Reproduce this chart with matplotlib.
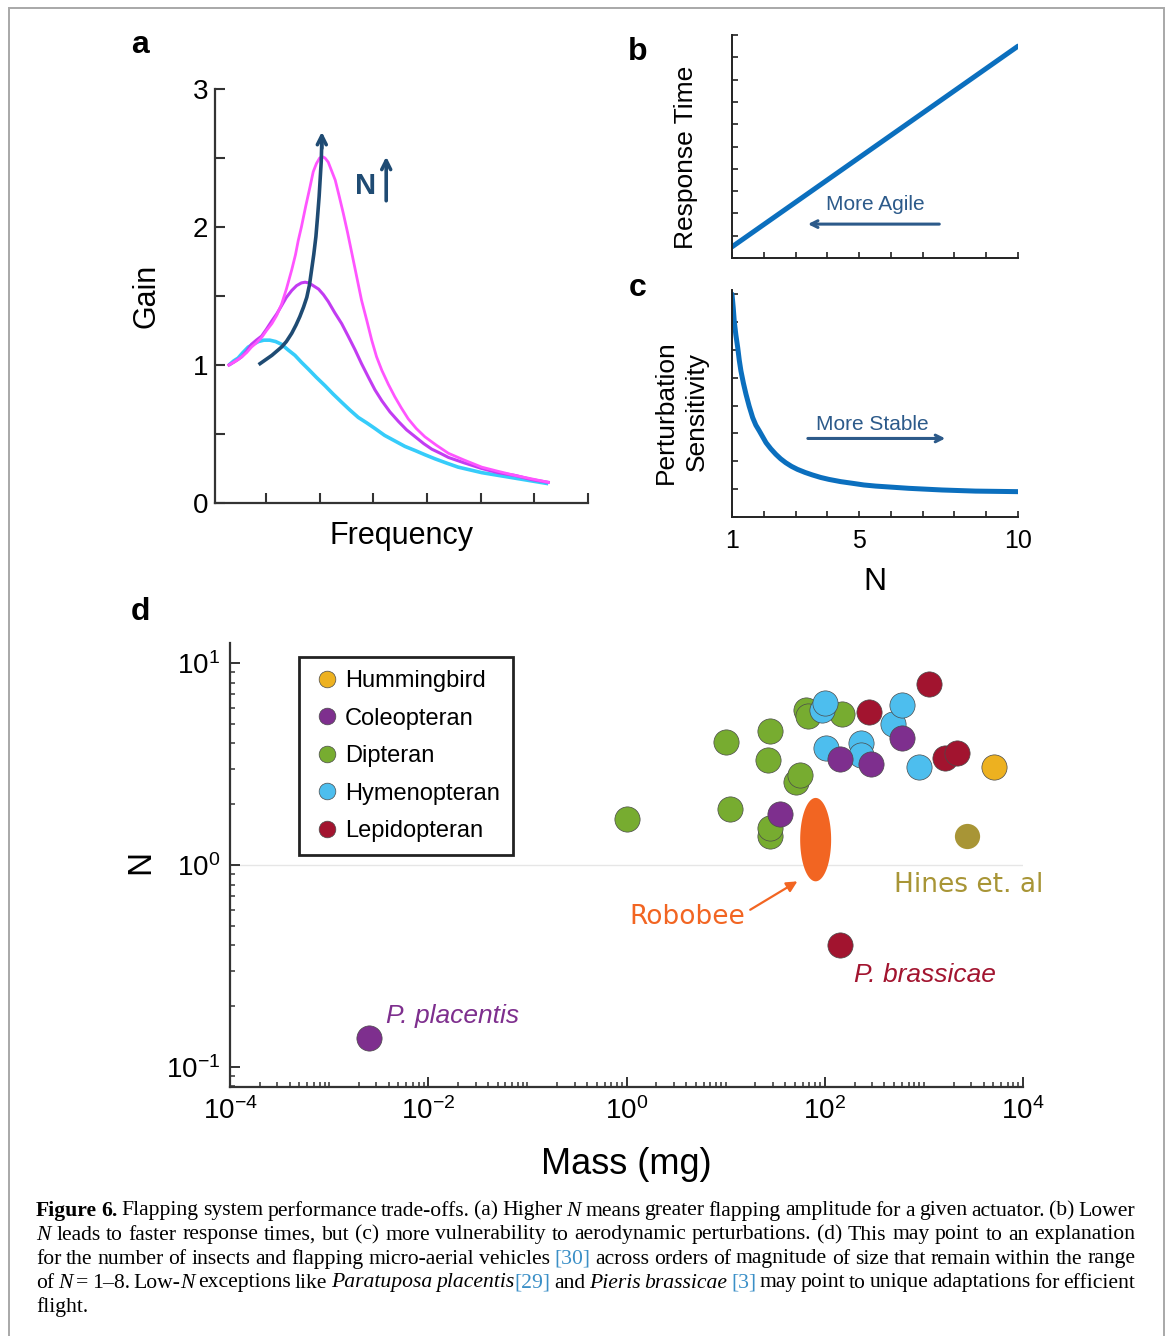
import numpy as np
import matplotlib
matplotlib.use('Agg')
import matplotlib.pyplot as plt
from matplotlib.lines import Line2D
from matplotlib.patches import Rectangle
from matplotlib.ticker import LogLocator, LogFormatterSciNotation, NullFormatter

plt.rcParams['font.family'] = ['Liberation Sans', 'DejaVu Sans']
plt.rcParams['mathtext.fontset'] = 'custom'
plt.rcParams['mathtext.rm'] = 'Liberation Sans'
plt.rcParams['mathtext.it'] = 'Liberation Sans:italic'
plt.rcParams['mathtext.default'] = 'regular'
plt.rcParams['axes.unicode_minus'] = False

# ---- panel a: gain vs frequency ----
freq_pink = [0.31, 0.40, 0.48, 0.55, 0.64, 0.73, 0.82, 0.92, 1.01, 1.11, 1.20, 1.29, 1.38,
             1.48, 1.55, 1.60, 1.66, 1.74, 1.82, 1.88, 1.94, 2.00, 2.05, 2.10, 2.16, 2.22,
             2.29, 2.36, 2.44, 2.52, 2.60, 2.69, 2.78, 2.88, 2.97, 3.06, 3.16, 3.28, 3.40,
             3.52, 3.65, 3.80, 3.96, 4.17, 4.40, 4.70, 5.02, 5.32, 5.64, 5.95, 6.26]
gain_pink = [1.00, 1.02, 1.04, 1.06, 1.09, 1.13, 1.16, 1.20, 1.25, 1.30, 1.36, 1.44, 1.55,
             1.69, 1.80, 1.90, 2.00, 2.15, 2.29, 2.40, 2.46, 2.50, 2.51, 2.50, 2.47, 2.41,
             2.34, 2.23, 2.10, 1.96, 1.81, 1.64, 1.47, 1.32, 1.18, 1.06, 0.96, 0.86, 0.77,
             0.69, 0.61, 0.54, 0.48, 0.42, 0.36, 0.31, 0.26, 0.23, 0.20, 0.175, 0.15]
freq_violet = [0.31, 0.40, 0.48, 0.55, 0.64, 0.73, 0.82, 0.92, 1.01, 1.11, 1.20, 1.29, 1.38,
               1.48, 1.57, 1.66, 1.73, 1.79, 1.86, 1.92, 1.98, 2.07, 2.16, 2.28, 2.41, 2.53,
               2.66, 2.78, 2.91, 3.03, 3.16, 3.31, 3.47, 3.62, 3.78, 3.94, 4.09, 4.25, 4.40,
               4.70, 5.02, 5.32, 5.64, 5.95, 6.26]
gain_violet = [1.00, 1.02, 1.04, 1.06, 1.10, 1.15, 1.18, 1.21, 1.26, 1.32, 1.37, 1.43, 1.49,
               1.54, 1.575, 1.595, 1.60, 1.595, 1.58, 1.565, 1.55, 1.51, 1.46, 1.38, 1.30, 1.21,
               1.11, 1.01, 0.91, 0.82, 0.74, 0.66, 0.59, 0.53, 0.48, 0.43, 0.39, 0.36, 0.33,
               0.29, 0.25, 0.22, 0.20, 0.17, 0.15]
freq_cyan = [0.31, 0.40, 0.48, 0.57, 0.67, 0.76, 0.86, 0.96, 1.07, 1.18, 1.29, 1.41, 1.54,
             1.66, 1.79, 1.94, 2.10, 2.25, 2.41, 2.56, 2.72, 2.88, 3.03, 3.21, 3.40, 3.59,
             3.78, 3.96, 4.15, 4.36, 4.58, 4.80, 5.02, 5.33, 5.64, 5.95, 6.26]
gain_cyan = [1.00, 1.03, 1.05, 1.09, 1.13, 1.15, 1.17, 1.18, 1.18, 1.17, 1.15, 1.11, 1.07,
             1.02, 0.97, 0.91, 0.85, 0.79, 0.73, 0.675, 0.62, 0.58, 0.54, 0.49, 0.45, 0.41,
             0.38, 0.35, 0.32, 0.29, 0.26, 0.24, 0.22, 0.20, 0.18, 0.16, 0.14]
# trend arrow through the peaks
freq_trend = [0.89, 1.00, 1.11, 1.20, 1.29, 1.38, 1.48, 1.56, 1.63, 1.70, 1.76, 1.81, 1.85,
              1.89, 1.93, 1.96, 1.99, 2.01, 2.03, 2.04]
gain_trend = [1.01, 1.04, 1.07, 1.10, 1.13, 1.17, 1.23, 1.29, 1.35, 1.42, 1.49, 1.58, 1.69,
              1.80, 1.93, 2.07, 2.22, 2.35, 2.48, 2.62]

# ---- panel b / c ----
n_b = [1, 10]
resp_time = [0.5, 9.5]
n_c = [1, 1.04, 1.07, 1.12, 1.18, 1.23, 1.28, 1.36, 1.44, 1.54, 1.65, 1.75, 1.86, 2.07, 2.22,
       2.38, 2.53, 2.69, 2.87, 3.06, 3.30, 3.53, 3.79, 4.05, 4.42, 4.79, 5.15, 5.52, 6.04,
       6.56, 7.08, 7.61, 8.13, 8.66, 9.33, 10.0]
sens = [8.0, 7.5, 7.04, 6.55, 6.08, 5.62, 5.25, 4.80, 4.41, 3.98, 3.57, 3.30, 3.09, 2.67, 2.45,
        2.25, 2.09, 1.95, 1.82, 1.71, 1.60, 1.51, 1.42, 1.35, 1.27, 1.21, 1.15, 1.11, 1.07,
        1.03, 1.00, 0.97, 0.95, 0.93, 0.92, 0.91]

# ---- panel d: mass (mg) vs N ----
dip_mass = [1.0, 10, 11.1, 28, 27, 28, 28, 51, 56, 65, 68, 151]
dip_N = [1.69, 4.07, 1.89, 4.6, 3.3, 1.39, 1.52, 2.57, 2.79, 5.85, 5.46, 5.58]
hym_mass = [93, 100, 102, 234, 230, 490, 600, 890]
hym_N = [5.85, 6.34, 3.8, 4.0, 3.5, 4.99, 6.2, 3.06]
col_mass = [0.0025, 35, 141, 295, 600]
col_N = [0.139, 1.78, 3.35, 3.16, 4.26]
lep_mass = [1120, 280, 1620, 2170, 143]
lep_N = [7.9, 5.7, 3.39, 3.59, 0.40]
hum_mass = [5150]
hum_N = [3.06]
hines_mass = [2750]
hines_N = [1.39]
robobee_mass = (56.5, 116)
robobee_N = (0.83, 2.15)

groups = ['Hummingbird', 'Coleopteran', 'Dipteran', 'Hymenopteran', 'Lepidopteran']
group_colors = ['#EDB120', '#7E2F8E', '#77AC30', '#4DBEEE', '#A2142F']

W, H = 1171, 1336
fig = plt.figure(figsize=(W / 100, H / 100), dpi=100)


def px_axes(l, t, r, b):
    return fig.add_axes([l / W, 1 - b / H, (r - l) / W, (b - t) / H])


navy = '#1F4B73'
annot = '#2C5A8A'
line_blue = '#0B6FBE'
spine_c = '#333333'

# ================= panel a =================
ax = px_axes(215, 89, 588, 503)
ax.plot(freq_cyan, gain_cyan, color='#36CCFA', lw=2.6, solid_capstyle='butt', zorder=2)
ax.plot(freq_violet, gain_violet, color='#C23CF2', lw=2.2, zorder=3)
ax.plot(freq_pink, gain_pink, color='#FF55FF', lw=2.0, zorder=3)
ax.plot(freq_trend, gain_trend, color=navy, lw=2.6, zorder=4)
ax.annotate('', xy=(freq_trend[-1], 2.71), xytext=(freq_trend[-1], 2.55),
            arrowprops=dict(arrowstyle='->', lw=2.6, color=navy, mutation_scale=16), zorder=5)
ax.text(2.86, 2.30, 'N', color=navy, fontsize=21, fontweight='bold', ha='center', va='center')
ax.annotate('', xy=(3.24, 2.53), xytext=(3.24, 2.17),
            arrowprops=dict(arrowstyle='->', lw=2.6, color=navy, mutation_scale=16))
ax.set_xlim(0.05, 7)
ax.set_ylim(0, 3)
ax.set_xticks(range(1, 8))
ax.set_xticklabels([])
ax.set_yticks(np.arange(0, 3.01, 0.5))
ax.set_yticklabels(['0', '', '1', '', '2', '', '3'])
ax.tick_params(direction='in', length=7, width=1.5, color=spine_c, labelsize=20, pad=5)
for s in ['top', 'right']:
    ax.spines[s].set_visible(False)
for s in ['left', 'bottom']:
    ax.spines[s].set_linewidth(1.6)
    ax.spines[s].set_color(spine_c)
ax.set_xlabel('Frequency', fontsize=22, labelpad=8)
ax.set_ylabel('Gain', fontsize=22, labelpad=22)

# ================= panel b =================
axb = px_axes(732, 35, 1018, 258)
axb.plot(n_b, resp_time, color=line_blue, lw=3.6, solid_capstyle='round')
axb.set_xlim(1, 10)
axb.set_ylim(0, 10)
axb.set_xticks(range(1, 11))
axb.set_yticks(range(0, 11))
axb.set_xticklabels([])
axb.set_yticklabels([])
axb.text(5.5, 2.4, 'More Agile', color=annot, fontsize=15, ha='center', va='center')
axb.annotate('', xy=(3.3, 1.52), xytext=(7.61, 1.52),
             arrowprops=dict(arrowstyle='->', lw=2.2, color=annot, mutation_scale=12))
axb.set_ylabel('Response Time', fontsize=19)
axb.yaxis.set_label_coords(-0.118, 0.453)

# ================= panel c =================
axc = px_axes(732, 290, 1018, 517)
axc.plot(n_c, sens, color=line_blue, lw=3.6, solid_capstyle='round')
axc.set_xlim(1, 10)
axc.set_ylim(0, 8.15)
axc.set_xticks(range(1, 11))
axc.set_xticklabels(['1', '', '', '', '5', '', '', '', '', '10'])
axc.set_yticks(range(0, 9))
axc.set_yticklabels([])
axc.text(5.4, 3.32, 'More Stable', color=annot, fontsize=15, ha='center', va='center')
axc.annotate('', xy=(7.8, 2.82), xytext=(3.3, 2.82),
             arrowprops=dict(arrowstyle='->', lw=2.2, color=annot, mutation_scale=12))
axc.set_xlabel('N', fontsize=23, labelpad=10)
axc.set_ylabel('Perturbation\nSensitivity', fontsize=19, linespacing=1.4)
axc.yaxis.set_label_coords(-0.08, 0.463)

for a in (axb, axc):
    a.tick_params(direction='in', length=4, width=1.2, color='#222222', labelsize=18, pad=9)
    for s in ['top', 'right']:
        a.spines[s].set_visible(False)
    for s in ['left', 'bottom']:
        a.spines[s].set_linewidth(1.4)
        a.spines[s].set_color('#222222')

# ================= panel d =================
axd = px_axes(230, 643, 1023, 1087)
axd.set_xscale('log')
axd.set_yscale('log')
axd.set_xlim(1e-4, 1e4)
axd.set_ylim(10 ** -1.1, 10 ** 1.1)
axd.axhline(1, color='#E6E6E6', lw=1.0, zorder=0)

sc_kw = dict(s=330, edgecolors='#4A4A4A', linewidths=0.5)
axd.scatter(dip_mass, dip_N, color=group_colors[2], zorder=3, **sc_kw)
axd.scatter(hym_mass, hym_N, color=group_colors[3], zorder=3.1, **sc_kw)
axd.scatter(col_mass, col_N, color=group_colors[1], zorder=3.2, **sc_kw)
axd.scatter(lep_mass, lep_N, color=group_colors[4], zorder=3.3, **sc_kw)
axd.scatter(hum_mass, hum_N, color=group_colors[0], zorder=3.4, **sc_kw)
axd.scatter(hines_mass, hines_N, color='#A89536', zorder=3.4, s=330, linewidths=0)

# robobee: ellipse spanning its mass and N range (ellipse in log space)
lx = np.log10(robobee_mass)
ly = np.log10(robobee_N)
t = np.linspace(0, 2 * np.pi, 100)
ex = 10 ** (lx.mean() + (lx[1] - lx[0]) / 2 * np.cos(t))
ey = 10 ** (ly.mean() + (ly[1] - ly[0]) / 2 * np.sin(t))
axd.fill(ex, ey, color='#F26522', lw=0, zorder=4)

axd.text(15.7, 0.55, 'Robobee', color='#F26522', fontsize=19, family='DejaVu Sans',
         ha='right', va='center')
axd.annotate('', xy=(53, 0.83), xytext=(17.7, 0.60),
             arrowprops=dict(arrowstyle='-|>', color='#F26522', lw=1.6, mutation_scale=16,
                             shrinkA=0, shrinkB=0))
axd.text(2800, 0.80, 'Hines et. al', color='#A89536', fontsize=19, family='DejaVu Sans',
         ha='center', va='center')
axd.text(1030, 0.285, 'P. brassicae', color='#A2142F', fontsize=19, style='italic',
         ha='center', va='center')
axd.text(0.0175, 0.178, 'P. placentis', color='#7E2F8E', fontsize=19, style='italic',
         ha='center', va='center')

axd.set_xticks([1e-4, 1e-2, 1e0, 1e2, 1e4])
axd.xaxis.set_major_formatter(LogFormatterSciNotation())
axd.xaxis.set_minor_locator(LogLocator(base=10, subs=np.arange(1, 10), numticks=30))
axd.xaxis.set_minor_formatter(NullFormatter())
axd.set_yticks([1e-1, 1e0, 1e1])
axd.yaxis.set_major_formatter(LogFormatterSciNotation())
axd.yaxis.set_minor_locator(LogLocator(base=10, subs=np.arange(2, 10), numticks=30))
axd.yaxis.set_minor_formatter(NullFormatter())
axd.tick_params(which='major', direction='in', length=7, width=1.4, color=spine_c,
                labelsize=20, pad=7)
axd.tick_params(which='minor', direction='in', length=3.5, width=1.1, color=spine_c)
for s in ['top', 'right']:
    axd.spines[s].set_visible(False)
for s in ['left', 'bottom']:
    axd.spines[s].set_linewidth(1.6)
    axd.spines[s].set_color(spine_c)
axd.set_xlabel('Mass (mg)', fontsize=26, labelpad=16)
axd.set_ylabel('N', fontsize=24)
axd.yaxis.set_label_coords(-0.093, 0.507)

handles = [Line2D([], [], ls='none', marker='o', markersize=12, markerfacecolor=c,
                  markeredgecolor='#4A4A4A', markeredgewidth=0.5) for c in group_colors]
leg = axd.legend(handles, groups, loc='upper left', bbox_to_anchor=(299 / W, 1 - 657 / H),
                 bbox_transform=fig.transFigure, borderaxespad=0, fontsize=17,
                 fancybox=False, edgecolor='#222222', framealpha=1, borderpad=0.55,
                 labelspacing=0.66, handlelength=1.3, handletextpad=0.1)
leg.get_frame().set_linewidth(2.0)

# panel letters
for lab, x, y in [('a', 140, 45), ('b', 638, 52), ('c', 638, 288), ('d', 140, 612)]:
    fig.text(x / W, 1 - y / H, lab, fontsize=23, fontweight='bold', ha='center', va='center')

# ================= caption =================
cap_styles = {
    'n': dict(family='Liberation Serif'),
    'b': dict(family='Liberation Serif', weight='bold'),
    'i': dict(family='Liberation Serif', style='italic'),
    'c': dict(family='Liberation Serif', color='#3A8FC7'),
}
cap_lines = [
    [('Figure 6.', 'b'), (' Flapping system performance trade-offs. (a) Higher ', 'n'), ('N', 'i'),
     (' means greater flapping amplitude for a given actuator. (b) Lower', 'n')],
    [('N', 'i'), (' leads to faster response times, but (c) more vulnerability to aerodynamic '
                  'perturbations. (d) This may point to an explanation', 'n')],
    [('for the number of insects and flapping micro-aerial vehicles ', 'n'), ('[30]', 'c'),
     (' across orders of magnitude of size that remain within the range', 'n')],
    [('of ', 'n'), ('N', 'i'), (' = 1\u20138. Low-', 'n'), ('N', 'i'), (' exceptions like ', 'n'),
     ('Paratuposa placentis', 'i'), ('[29]', 'c'), (' and ', 'n'), ('Pieris brassicae', 'i'),
     (' ', 'n'), ('[3]', 'c'), (' may point to unique adaptations for efficient', 'n')],
    [('flight.', 'n')],
]
cap_size = 15.6
fig.canvas.draw()
renderer = fig.canvas.get_renderer()
x_left, x_right = 36, 1135
for li, runs in enumerate(cap_lines):
    y = 1 - (1211 + 24 * li) / H
    words, cur = [], []
    for txt, st in runs:
        parts = txt.split(' ')
        for i, p in enumerate(parts):
            if i > 0:
                words.append(cur)
                cur = []
            if p:
                cur.append((p, st))
    words.append(cur)
    words = [w for w in words if w]
    items = []
    total = 0
    for w in words:
        pieces = []
        for p, st in w:
            tx = fig.text(0, y, p, fontsize=cap_size, va='center', ha='left', **cap_styles[st])
            wd = tx.get_window_extent(renderer).width
            pieces.append((tx, wd))
            total += wd
        items.append(pieces)
    if li < len(cap_lines) - 1:
        gap = max((x_right - x_left - total) / (len(items) - 1), 2.5)
    else:
        gap = 5
    x = x_left
    for pieces in items:
        for tx, wd in pieces:
            tx.set_x(x / W)
            x += wd
        x += gap

# light frame around the figure
fig.patches.append(Rectangle((9 / W, -0.01), (1164 - 9) / W, 1.01 - 8 / H, transform=fig.transFigure,
                             fill=False, edgecolor='#A8A8A8', lw=1.4))

fig.savefig('out.png', dpi=100, facecolor='white')
